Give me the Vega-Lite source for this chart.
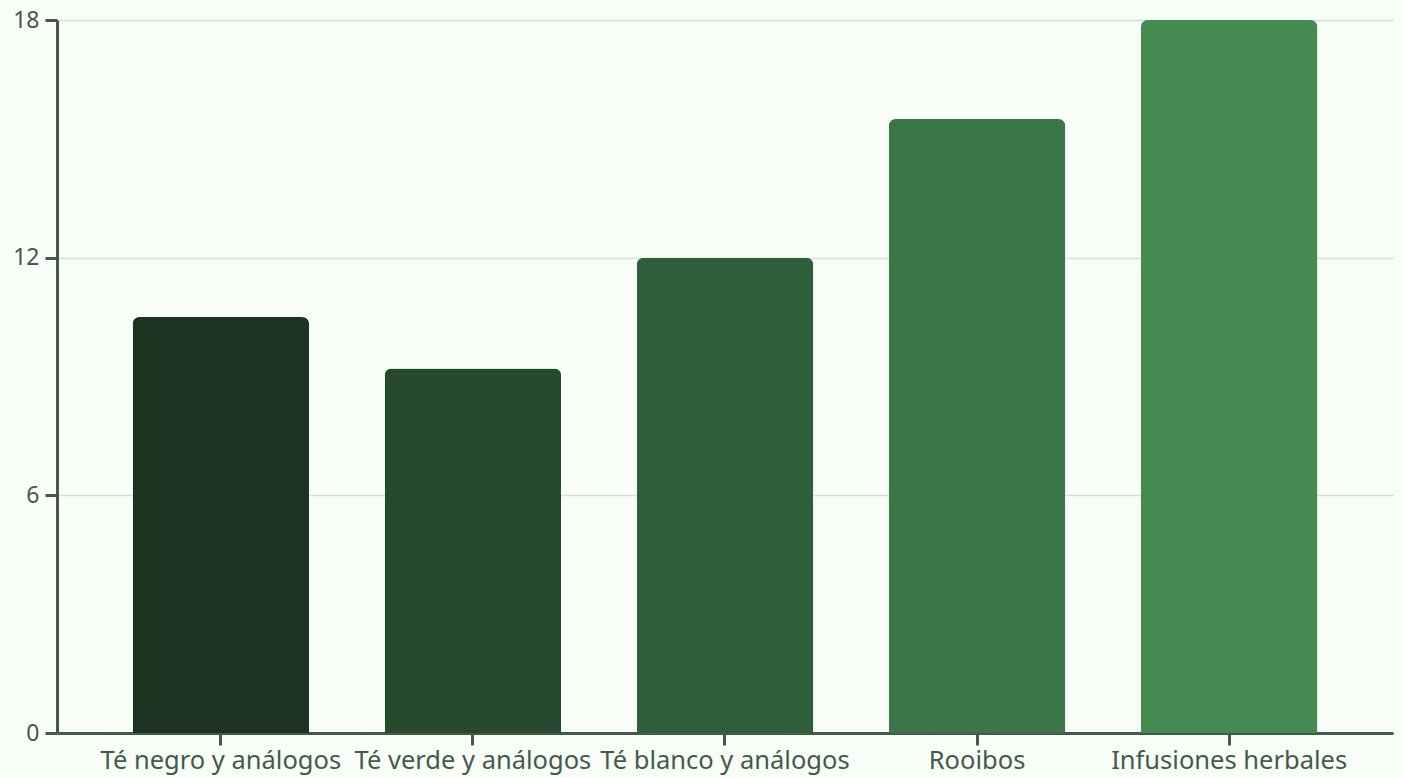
{
  "$schema": "https://vega.github.io/schema/vega-lite/v6.json",
  "width": 1336,
  "height": 713,
  "autosize": "none",
  "padding": {"left": 57, "top": 20, "right": 11, "bottom": 45},
  "background": "#f8fdf8",
  "data": {
    "values": [
      {"categoria": "Té negro y análogos", "valor": 10.5},
      {"categoria": "Té verde y análogos", "valor": 9.2},
      {"categoria": "Té blanco y análogos", "valor": 12.0},
      {"categoria": "Rooibos", "valor": 15.5},
      {"categoria": "Infusiones herbales", "valor": 18.0}
    ]
  },
  "config": {
    "view": {"stroke": null},
    "font": "Noto Sans",
    "axis": {
      "labelFont": "Noto Sans",
      "labelFontSize": 23,
      "labelColor": "#435a4b",
      "domainColor": "#435a4b",
      "domainWidth": 3,
      "tickColor": "#435a4b",
      "tickWidth": 3,
      "tickSize": 12,
      "labelLimit": 0,
      "title": null
    }
  },
  "mark": {"type": "bar", "cornerRadiusTopLeft": 7, "cornerRadiusTopRight": 7},
  "encoding": {
    "x": {
      "field": "categoria",
      "type": "nominal",
      "sort": null,
      "scale": {"paddingInner": 0.3, "paddingOuter": 0.3},
      "axis": {"labelAngle": 0, "labelPadding": 3, "grid": false, "labelOverlap": false, "labelFontSize": 25.5, "labelLimit": 0}
    },
    "y": {
      "field": "valor",
      "type": "quantitative",
      "scale": {"domain": [0, 18], "nice": false},
      "axis": {
        "values": [0, 6, 12, 18],
        "grid": true,
        "gridColor": "#d6dfd8",
        "gridWidth": 1.5,
        "labelPadding": 6
      }
    },
    "color": {
      "field": "categoria",
      "type": "nominal",
      "sort": null,
      "legend": null,
      "scale": {
        "domain": ["Té negro y análogos", "Té verde y análogos", "Té blanco y análogos", "Rooibos", "Infusiones herbales"],
        "range": ["#1b3320", "#254a2d", "#2f5f3a", "#3b7649", "#458b52"]
      }
    }
  }
}
